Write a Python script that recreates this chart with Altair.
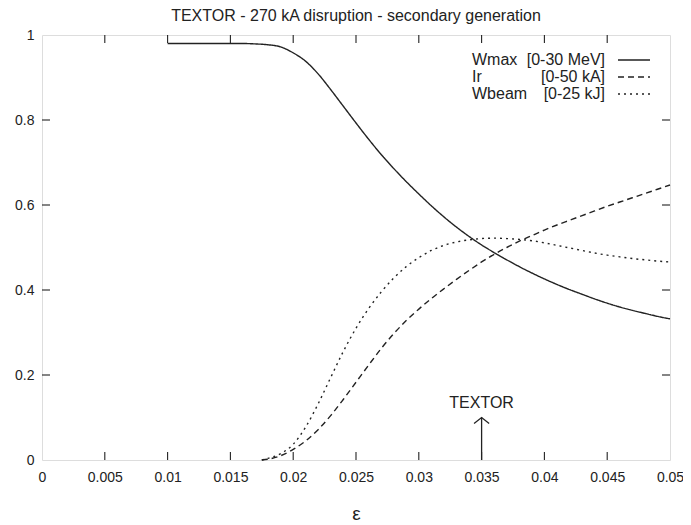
import altair as alt
import pandas as pd

# ---- data ----
wmax_x = [0.010, 0.012, 0.014, 0.016, 0.017, 0.018, 0.019, 0.020, 0.021, 0.022, 0.023, 0.024,
          0.025, 0.026, 0.027, 0.028, 0.029, 0.030, 0.031, 0.032, 0.033, 0.034, 0.035, 0.036,
          0.037, 0.038, 0.039, 0.040, 0.041, 0.042, 0.043, 0.044, 0.045, 0.046, 0.047, 0.048,
          0.049, 0.050]
wmax_y = [0.980, 0.980, 0.980, 0.980, 0.979, 0.977, 0.972, 0.958, 0.938, 0.908, 0.871, 0.832,
          0.793, 0.755, 0.719, 0.686, 0.655, 0.626, 0.598, 0.572, 0.548, 0.526, 0.506, 0.488,
          0.471, 0.455, 0.440, 0.426, 0.413, 0.401, 0.390, 0.379, 0.369, 0.360, 0.352, 0.345,
          0.338, 0.332]

ir_x = [0.0175, 0.018, 0.019, 0.020, 0.021, 0.022, 0.023, 0.024, 0.025, 0.026, 0.027, 0.028,
        0.029, 0.030, 0.031, 0.032, 0.033, 0.034, 0.035, 0.036, 0.037, 0.038, 0.039, 0.040,
        0.041, 0.042, 0.043, 0.044, 0.045, 0.046, 0.047, 0.048, 0.049, 0.050]
ir_y = [0.000, 0.002, 0.010, 0.025, 0.045, 0.072, 0.105, 0.143, 0.183, 0.223, 0.262, 0.297,
        0.328, 0.355, 0.380, 0.403, 0.425, 0.446, 0.466, 0.484, 0.500, 0.515, 0.528, 0.541,
        0.553, 0.564, 0.575, 0.586, 0.597, 0.607, 0.617, 0.627, 0.637, 0.647]

wb_x = [0.0175, 0.018, 0.019, 0.020, 0.021, 0.022, 0.023, 0.024, 0.025, 0.026, 0.027, 0.028,
        0.029, 0.030, 0.031, 0.032, 0.033, 0.034, 0.035, 0.036, 0.037, 0.038, 0.039, 0.040,
        0.041, 0.042, 0.043, 0.044, 0.045, 0.046, 0.047, 0.048, 0.049, 0.050]
wb_y = [0.000, 0.004, 0.015, 0.037, 0.078, 0.133, 0.195, 0.256, 0.310, 0.356, 0.395, 0.428,
        0.455, 0.476, 0.493, 0.505, 0.513, 0.518, 0.521, 0.522, 0.521, 0.519, 0.516, 0.511,
        0.505, 0.499, 0.493, 0.487, 0.482, 0.478, 0.474, 0.471, 0.468, 0.466]

series_names = ["Wmax", "Ir", "Wbeam"]
series_ranges = ["[0-30 MeV]", "[0-50 kA]", "[0-25 kJ]"]

x_ticks = [0, 0.005, 0.01, 0.015, 0.02, 0.025, 0.03, 0.035, 0.04, 0.045, 0.05]
y_ticks = [0, 0.2, 0.4, 0.6, 0.8, 1]

textor_eps = 0.035
arrow_x = [0.0344, 0.035, 0.0356]
arrow_y = [0.086, 0.100, 0.086]
textor_label_y = 0.135

title_text = "TEXTOR - 270 kA disruption - secondary generation"

# ---- build tables ----
rows = []
for name, xs_, ys_ in zip(series_names, [wmax_x, ir_x, wb_x], [wmax_y, ir_y, wb_y]):
    for a, b in zip(xs_, ys_):
        rows.append({"series": name, "eps": a, "val": b})
lines_df = pd.DataFrame(rows)

W, H = 628, 425
INK = "#222222"
FONT = "Liberation Sans"

xs = alt.Scale(domain=[0, 0.05], nice=False, zero=False)
ys = alt.Scale(domain=[0, 1], nice=False, zero=False)
dash = alt.Scale(domain=series_names, range=[[1, 0], [6, 4], [2, 4]])

x_axis = alt.Axis(values=x_ticks, format="~g", ticks=False, domain=False, grid=False,
                  labelPadding=10, labelFontSize=14, labelColor=INK, labelFont=FONT,
                  title="ε", titleFontSize=19, titleFontWeight="normal",
                  titleColor=INK, titleFont=FONT, titlePadding=20,
                  labelFlush=False, labelOverlap=False)
y_axis = alt.Axis(values=y_ticks, format="~g", ticks=False, domain=False, grid=False,
                  labelPadding=8, labelFontSize=14, labelColor=INK, labelFont=FONT,
                  title=None, labelFlush=False, labelOverlap=False)


def X(field):
    return alt.X(field, scale=xs, axis=x_axis, title="ε")


def Y(field):
    return alt.Y(field, scale=ys, axis=y_axis, title=None)


lines = alt.Chart(lines_df).mark_line(interpolate="monotone", strokeWidth=1.4, color=INK).encode(
    x=X("eps:Q"),
    y=Y("val:Q"),
    strokeDash=alt.StrokeDash("series:N", scale=dash, legend=None),
    detail="series:N",
)

xt = pd.DataFrame({"t": x_ticks[1:-1]})
yt = pd.DataFrame({"t": y_ticks[1:-1]})
tick_len = 8
bottom_ticks = alt.Chart(xt).mark_rule(color=INK, strokeWidth=1.1).encode(
    x=X("t:Q"), y=alt.value(H), y2=alt.value(H - tick_len))
top_ticks = alt.Chart(xt).mark_rule(color=INK, strokeWidth=1.1).encode(
    x=X("t:Q"), y=alt.value(0), y2=alt.value(tick_len))
left_ticks = alt.Chart(yt).mark_rule(color=INK, strokeWidth=1.1).encode(
    y=Y("t:Q"), x=alt.value(0), x2=alt.value(tick_len))
right_ticks = alt.Chart(yt).mark_rule(color=INK, strokeWidth=1.1).encode(
    y=Y("t:Q"), x=alt.value(W), x2=alt.value(W - tick_len))

# TEXTOR arrow
arrow_shaft = alt.Chart(pd.DataFrame({"x": [textor_eps], "y0": [0.0], "y1": [arrow_y[1]]})).mark_rule(
    color=INK, strokeWidth=1.3).encode(
    x=X("x:Q"), y=Y("y0:Q"), y2="y1:Q")
arrow_head = alt.Chart(pd.DataFrame({"x": arrow_x, "y": arrow_y, "o": [0, 1, 2]})).mark_line(
    color=INK, strokeWidth=1.3).encode(
    x=X("x:Q"), y=Y("y:Q"), order="o:Q")
arrow_text = alt.Chart(pd.DataFrame({"x": [textor_eps], "y": [textor_label_y], "t": ["TEXTOR"]})).mark_text(
    font=FONT, fontSize=16, color=INK, baseline="middle", align="center").encode(
    x=X("x:Q"), y=Y("y:Q"), text="t:N")

# custom legend (pixel positions inside the plot area)
leg = pd.DataFrame({
    "series": series_names,
    "rng": series_ranges,
    "ly": [25, 42, 59],
    "nx": [430] * 3,
    "rx": [563] * 3,
    "sx1": [576] * 3,
    "sx2": [608] * 3,
})
leg_names = alt.Chart(leg).mark_text(font=FONT, fontSize=16, color=INK, align="left", baseline="middle").encode(
    x=alt.X("nx:Q", scale=None), y=alt.Y("ly:Q", scale=None), text="series:N")
leg_ranges = alt.Chart(leg).mark_text(font=FONT, fontSize=16, color=INK, align="right", baseline="middle").encode(
    x=alt.X("rx:Q", scale=None), y=alt.Y("ly:Q", scale=None), text="rng:N")
leg_lines = alt.Chart(leg).mark_rule(color=INK, strokeWidth=1.4).encode(
    x=alt.X("sx1:Q", scale=None), x2="sx2:Q", y=alt.Y("ly:Q", scale=None),
    strokeDash=alt.StrokeDash("series:N", scale=dash, legend=None))

chart = alt.layer(
    lines, bottom_ticks, top_ticks, left_ticks, right_ticks,
    arrow_shaft, arrow_head, arrow_text, leg_names, leg_ranges, leg_lines,
).properties(
    width=W, height=H,
    title=alt.TitleParams(title_text, fontSize=16, fontWeight="normal", font=FONT,
                          color=INK, anchor="middle", offset=4),
    padding={"left": 34, "top": 27, "right": 13, "bottom": 65},
    autosize=alt.AutoSizeParams(type="none"),
).configure_view(
    stroke=INK, strokeWidth=1.5
).configure(background="white")

chart.save("out.html", embed_options={"renderer": "svg", "actions": False})
